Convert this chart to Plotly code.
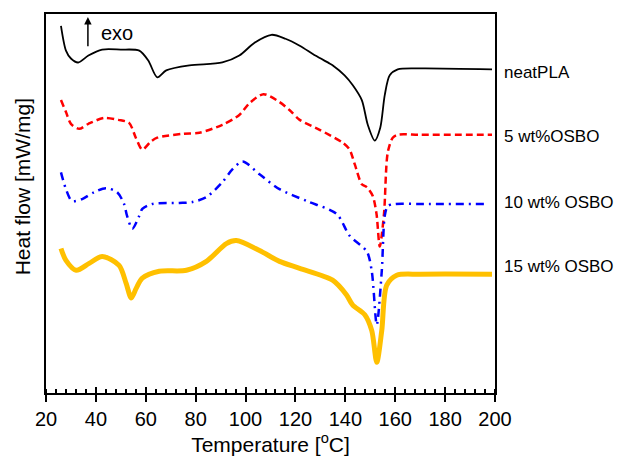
import plotly.graph_objects as go

# Temperature (°C) and heat flow (arbitrary offset units, mW/mg)
t_neat = [26, 28, 30, 32.9, 37, 42.5, 50, 57.4, 61, 64.6, 68.2, 77.5, 90.7, 97.5, 103.6,
          110.4, 116, 121.7, 128, 133.7, 135, 139.7, 143, 146.6, 149, 151.8, 154, 155.8,
          157.8, 161, 170, 198.8]
hf_neat = [3.75, 3.50, 3.42, 3.38, 3.45, 3.51, 3.51, 3.50, 3.40, 3.23, 3.30, 3.35, 3.38,
           3.45, 3.58, 3.66, 3.62, 3.55, 3.45, 3.37, 3.35, 3.25, 3.15, 3.00, 2.75, 2.59,
           2.72, 3.05, 3.25, 3.31, 3.32, 3.31]

t_5 = [26, 28, 30, 33.3, 37, 43.3, 49, 53.3, 56, 58.6, 62, 64.6, 75, 81.5, 90.7, 97.5,
       101.6, 107.2, 113.6, 117.6, 121.7, 129.7, 138.9, 141.7, 143.8, 146.6, 148.6, 151,
       152.5, 153.8, 155.5, 157, 159, 161, 170, 198.8]
hf_5 = [3.00, 2.88, 2.76, 2.71, 2.76, 2.82, 2.80, 2.77, 2.62, 2.50, 2.58, 2.62, 2.66, 2.67,
        2.75, 2.85, 2.97, 3.06, 2.98, 2.90, 2.80, 2.70, 2.57, 2.50, 2.35, 2.15, 2.12, 2.03,
        1.85, 1.52, 1.85, 2.47, 2.62, 2.65, 2.65, 2.65]

t_10 = [26, 28, 30.4, 34.5, 39.3, 44, 48.5, 51.3, 52.5, 54.6, 57.4, 58.6, 62.6, 73.4, 78.7,
        84.3, 90.7, 94.7, 98.8, 105.6, 113.6, 124.5, 136.5, 141.7, 148.6, 150.6, 152.6,
        154.6, 155.8, 157, 160, 170, 196]
hf_10 = [2.27, 2.10, 1.98, 2.00, 2.07, 2.11, 2.07, 1.95, 1.83, 1.70, 1.83, 1.90, 1.95, 1.96,
         1.97, 2.02, 2.17, 2.30, 2.38, 2.25, 2.10, 1.98, 1.85, 1.63, 1.47, 1.27, 0.73, 1.27,
         1.83, 1.93, 1.95, 1.95, 1.95]

t_15 = [26, 28, 32.1, 37.3, 42.5, 49.3, 52.1, 54.2, 56.2, 58.6, 65.4, 76.3, 84.3, 92.3,
        96.3, 105.6, 113.6, 121.7, 134.9, 140.5, 142.9, 147.8, 150.6, 152.6, 154.6, 156.6,
        160.6, 170, 198.8]
hf_15 = [1.50, 1.38, 1.28, 1.35, 1.42, 1.33, 1.15, 1.00, 1.10, 1.20, 1.27, 1.28, 1.37, 1.55,
         1.58, 1.48, 1.37, 1.30, 1.18, 1.03, 0.93, 0.83, 0.67, 0.35, 0.67, 1.13, 1.23, 1.24,
         1.24]

labels = ["neatPLA", "5 wt%OSBO", "10 wt% OSBO", "15 wt% OSBO"]
label_y = [3.28, 2.63, 1.97, 1.32]
x_ticks = [20, 40, 60, 80, 100, 120, 140, 160, 180, 200]

series = [
    (t_neat, hf_neat, dict(color="#000000", width=1.8)),
    (t_5, hf_5, dict(color="#FF0000", width=2.5, dash="7px,4px")),
    (t_10, hf_10, dict(color="#0000FF", width=2.5, dash="8px,5px,2px,5px")),
    (t_15, hf_15, dict(color="#FFC000", width=5)),
]

fig = go.Figure()
for (t, hf, ln), name in zip(series, labels):
    fig.add_trace(go.Scatter(x=t, y=hf, mode="lines", name=name,
                             line=dict(shape="spline", smoothing=0.8, **ln),
                             showlegend=False))

# invisible trace on second x axis to host inside major ticks
fig.add_trace(go.Scatter(x=[20, 200], y=[2, 2], xaxis="x2", mode="lines",
                         line=dict(width=0), showlegend=False, hoverinfo="skip"))

font = "Liberation Sans, Arial, sans-serif"
for lab, ly in zip(labels, label_y):
    fig.add_annotation(x=1.016, xref="paper", y=ly, yref="y", text=lab, showarrow=False,
                       xanchor="left", yanchor="middle",
                       font=dict(family=font, size=17, color="#000"))

# y-axis title
fig.add_annotation(x=-0.053, xref="paper", y=2.12, yref="y", text="Heat flow [mW/mg]",
                   textangle=-90, showarrow=False, xanchor="center", yanchor="middle",
                   font=dict(family=font, size=21, color="#000"))

# exo arrow
fig.add_annotation(x=36.8, y=3.84, ax=36.8, ay=3.53, xref="x", yref="y", axref="x", ayref="y",
                   text="", showarrow=True, arrowhead=2, arrowsize=1, arrowwidth=1.5,
                   arrowcolor="#000")
fig.add_annotation(x=41.4, y=3.68, xref="x", yref="y", text="exo", showarrow=False,
                   xanchor="left", yanchor="middle", font=dict(family=font, size=20, color="#000"))

fig.update_layout(
    width=620, height=461,
    margin=dict(l=46, r=125, t=13, b=65),
    paper_bgcolor="white", plot_bgcolor="white",
    font=dict(family=font, color="#000"),
    xaxis=dict(range=[20, 200], tickvals=x_ticks, ticks="outside", ticklen=7, tickwidth=1.5,
               tickcolor="#000", showline=True, linecolor="#000", linewidth=2, mirror=True,
               showgrid=False, zeroline=False, tickfont=dict(size=20),
               minor=dict(dtick=4, tick0=20, ticks="inside", ticklen=4, tickwidth=1.5,
                          tickcolor="#000", showgrid=False),
               title=dict(text="Temperature [<sup>o</sup>C]", font=dict(size=21), standoff=4)),
    xaxis2=dict(range=[20, 200], overlaying="x", side="bottom", tickvals=x_ticks,
                ticks="inside", ticklen=6, tickwidth=1.5, tickcolor="#000",
                showticklabels=False, showline=False, showgrid=False, zeroline=False,
                anchor="y"),
    yaxis=dict(range=[0.04, 3.87], showticklabels=False, ticks="", showline=True,
               linecolor="#000", linewidth=2, mirror=True, showgrid=False, zeroline=False),
)

fig.write_html("out.html")
